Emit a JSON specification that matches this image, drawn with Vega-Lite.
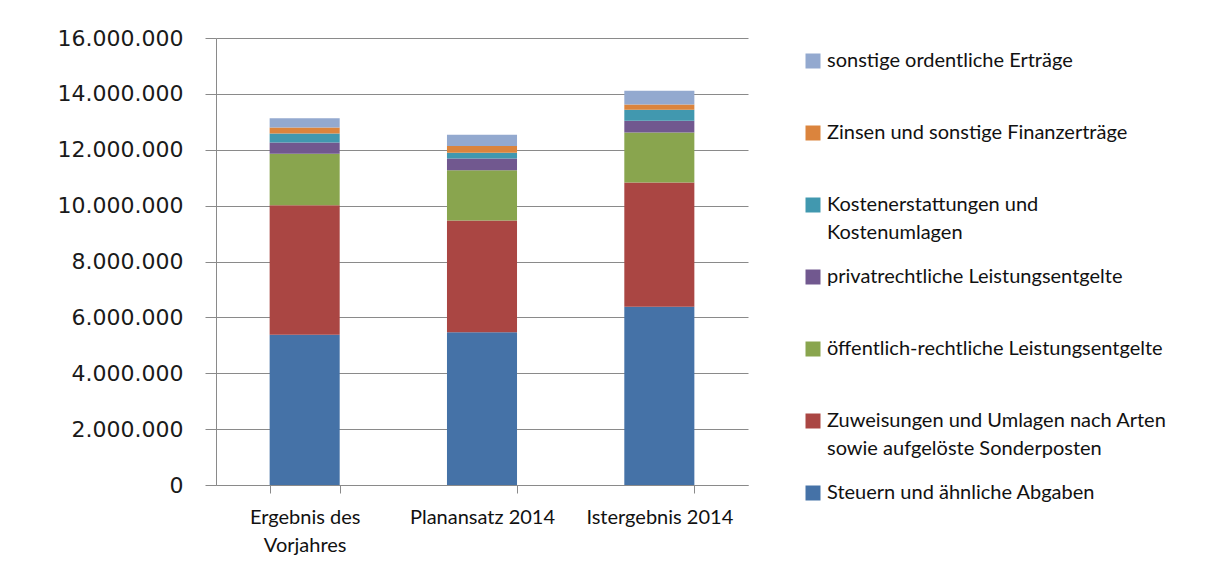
{
  "$schema": "https://vega.github.io/schema/vega-lite/v6.json",
  "autosize": {"type": "none"},
  "padding": {"left": 216, "top": 38, "right": 464, "bottom": 85},
  "width": 532,
  "height": 447,
  "background": "white",
  "data": {
    "values": [
      {"kategorie": "Ergebnis des Vorjahres", "position": "Steuern und ähnliche Abgaben", "rang": 1, "betrag": 5380000},
      {"kategorie": "Ergebnis des Vorjahres", "position": "Zuweisungen und Umlagen nach Arten sowie aufgelöste Sonderposten", "rang": 2, "betrag": 4630000},
      {"kategorie": "Ergebnis des Vorjahres", "position": "öffentlich-rechtliche Leistungsentgelte", "rang": 3, "betrag": 1850000},
      {"kategorie": "Ergebnis des Vorjahres", "position": "privatrechtliche Leistungsentgelte", "rang": 4, "betrag": 400000},
      {"kategorie": "Ergebnis des Vorjahres", "position": "Kostenerstattungen und Kostenumlagen", "rang": 5, "betrag": 320000},
      {"kategorie": "Ergebnis des Vorjahres", "position": "Zinsen und sonstige Finanzerträge", "rang": 6, "betrag": 220000},
      {"kategorie": "Ergebnis des Vorjahres", "position": "sonstige ordentliche Erträge", "rang": 7, "betrag": 330000},
      {"kategorie": "Planansatz 2014", "position": "Steuern und ähnliche Abgaben", "rang": 1, "betrag": 5470000},
      {"kategorie": "Planansatz 2014", "position": "Zuweisungen und Umlagen nach Arten sowie aufgelöste Sonderposten", "rang": 2, "betrag": 4000000},
      {"kategorie": "Planansatz 2014", "position": "öffentlich-rechtliche Leistungsentgelte", "rang": 3, "betrag": 1800000},
      {"kategorie": "Planansatz 2014", "position": "privatrechtliche Leistungsentgelte", "rang": 4, "betrag": 415000},
      {"kategorie": "Planansatz 2014", "position": "Kostenerstattungen und Kostenumlagen", "rang": 5, "betrag": 210000},
      {"kategorie": "Planansatz 2014", "position": "Zinsen und sonstige Finanzerträge", "rang": 6, "betrag": 240000},
      {"kategorie": "Planansatz 2014", "position": "sonstige ordentliche Erträge", "rang": 7, "betrag": 400000},
      {"kategorie": "Istergebnis 2014", "position": "Steuern und ähnliche Abgaben", "rang": 1, "betrag": 6380000},
      {"kategorie": "Istergebnis 2014", "position": "Zuweisungen und Umlagen nach Arten sowie aufgelöste Sonderposten", "rang": 2, "betrag": 4450000},
      {"kategorie": "Istergebnis 2014", "position": "öffentlich-rechtliche Leistungsentgelte", "rang": 3, "betrag": 1790000},
      {"kategorie": "Istergebnis 2014", "position": "privatrechtliche Leistungsentgelte", "rang": 4, "betrag": 420000},
      {"kategorie": "Istergebnis 2014", "position": "Kostenerstattungen und Kostenumlagen", "rang": 5, "betrag": 390000},
      {"kategorie": "Istergebnis 2014", "position": "Zinsen und sonstige Finanzerträge", "rang": 6, "betrag": 190000},
      {"kategorie": "Istergebnis 2014", "position": "sonstige ordentliche Erträge", "rang": 7, "betrag": 490000}
    ]
  },
  "mark": {"type": "bar"},
  "encoding": {
    "x": {
      "field": "kategorie",
      "type": "nominal",
      "sort": ["Ergebnis des Vorjahres", "Planansatz 2014", "Istergebnis 2014"],
      "scale": {"paddingInner": 0.605, "paddingOuter": 0.3025},
      "axis": {
        "title": null,
        "labelAngle": 0,
        "labelFont": "Lato",
        "labelFontSize": 20,
        "labelColor": "#111111",
        "labelLineHeight": 28,
        "labelPadding": 14,
        "labelLimit": 0,
        "labelExpr": "datum.label == 'Ergebnis des Vorjahres' ? ['Ergebnis des', 'Vorjahres'] : datum.label",
        "tickBand": "extent",
        "tickSize": 8,
        "tickColor": "#8a8a8a",
        "domainColor": "#8a8a8a",
        "grid": false
      }
    },
    "y": {
      "field": "betrag",
      "type": "quantitative",
      "stack": "zero",
      "scale": {"domain": [0, 16000000], "nice": false},
      "axis": {
        "title": null,
        "values": [0, 2000000, 4000000, 6000000, 8000000, 10000000, 12000000, 14000000, 16000000],
        "format": ",d",
        "labelFont": "DejaVu Sans",
        "labelFontSize": 22,
        "labelColor": "#1a1a1a",
        "labelPadding": 22,
        "tickSize": 11,
        "tickColor": "#8a8a8a",
        "domainColor": "#8a8a8a",
        "gridColor": "#8a8a8a",
        "gridWidth": 1
      }
    },
    "order": {"field": "rang", "type": "quantitative", "sort": "ascending"},
    "color": {
      "field": "position",
      "type": "nominal",
      "scale": {
        "domain": [
          "sonstige ordentliche Erträge",
          "Zinsen und sonstige Finanzerträge",
          "Kostenerstattungen und Kostenumlagen",
          "privatrechtliche Leistungsentgelte",
          "öffentlich-rechtliche Leistungsentgelte",
          "Zuweisungen und Umlagen nach Arten sowie aufgelöste Sonderposten",
          "Steuern und ähnliche Abgaben"
        ],
        "range": ["#93A9CF", "#DB843D", "#4198AF", "#71588F", "#89A54E", "#AA4643", "#4572A7"]
      },
      "legend": {
        "title": null,
        "orient": "none",
        "legendX": 587,
        "legendY": 13,
        "padding": 0,
        "symbolType": "square",
        "symbolSize": 225,
        "symbolStrokeWidth": 0,
        "symbolOpacity": 1,
        "labelFont": "Lato",
        "labelFontSize": 20,
        "labelColor": "#111111",
        "labelLimit": 420,
        "labelOffset": 4,
        "labelBaseline": "top",
        "gridAlign": "all",
        "rowPadding": 24,
        "labelExpr": "datum.label == 'Kostenerstattungen und Kostenumlagen' ? ['Kostenerstattungen und', 'Kostenumlagen'] : datum.label == 'Zuweisungen und Umlagen nach Arten sowie aufgelöste Sonderposten' ? ['Zuweisungen und Umlagen nach Arten', 'sowie aufgelöste Sonderposten'] : datum.label",
        "encoding": {"labels": {"dy": {"value": -10}, "lineHeight": {"value": 28}}}
      }
    }
  },
  "config": {
    "locale": {"number": {"decimal": ",", "thousands": ".", "grouping": [3], "currency": ["", " €"]}},
    "view": {"stroke": null}
  }
}
